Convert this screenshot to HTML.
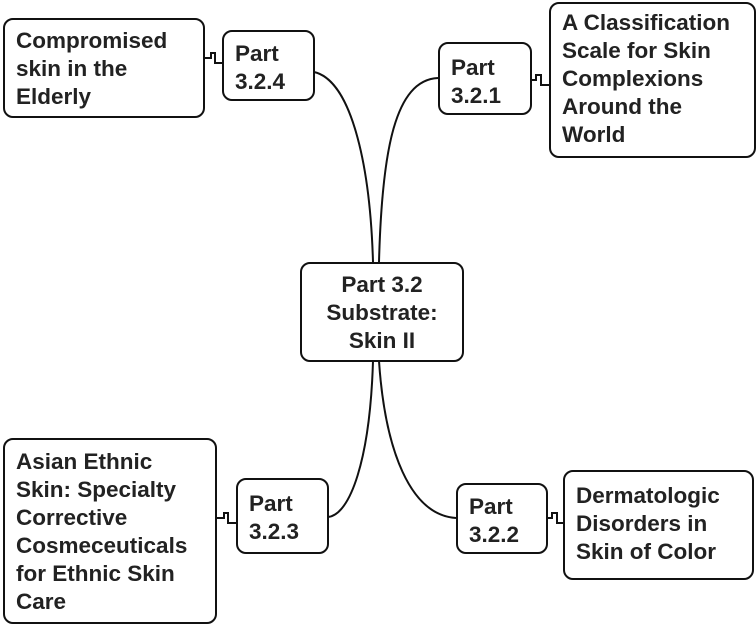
<!DOCTYPE html>
<html><head><style>
body{margin:0;width:756px;height:624px;background:#fff;position:relative;overflow:hidden;font-family:"Liberation Sans",Arial,sans-serif;font-weight:bold;color:#222}
.b{position:absolute;box-sizing:border-box;border:2.5px solid #111;border-radius:10px;background:#fff;font-size:22.5px;line-height:28px;padding:6px 11px}
svg{position:absolute;left:0;top:0}
</style></head><body>
<svg width="756" height="624" fill="none" stroke="#111" stroke-width="2">
<path d="M373 262 C370 160 350 80 314 72"/>
<path d="M379 262 C382 150 395 80 438 78"/>
<path d="M373 361 C370 460 350 515 328 517"/>
<path d="M379 361 C385 450 410 515 456 518"/>
<path d="M204 58 h7 v-5 h4 v10 h7"/>
<path d="M531 80 h5 v-5 h5 v10 h8"/>
<path d="M216 518 h8 v-5 h4 v10 h8"/>
<path d="M547 518 h5 v-5 h5 v10 h6"/>
</svg>
<div class="b" style="left:3px;top:18px;width:202px;height:100px;padding-top:7px">Compromised<br>skin in the<br>Elderly</div>
<div class="b" style="left:222px;top:30px;width:93px;height:71px;padding-top:8px">Part<br>3.2.4</div>
<div class="b" style="left:438px;top:42px;width:94px;height:73px;padding-top:10px">Part<br>3.2.1</div>
<div class="b" style="left:549px;top:2px;width:207px;height:156px;padding-top:5px">A Classification<br>Scale for Skin<br>Complexions<br>Around the<br>World</div>
<div class="b" style="left:300px;top:262px;width:164px;height:100px;text-align:center;padding:7px 2px">Part 3.2<br>Substrate:<br>Skin II</div>
<div class="b" style="left:3px;top:438px;width:214px;height:186px;padding-top:8px">Asian Ethnic<br>Skin: Specialty<br>Corrective<br>Cosmeceuticals<br>for Ethnic Skin<br>Care</div>
<div class="b" style="left:236px;top:478px;width:93px;height:76px;padding-top:10px">Part<br>3.2.3</div>
<div class="b" style="left:456px;top:483px;width:92px;height:71px;padding-top:8px">Part<br>3.2.2</div>
<div class="b" style="left:563px;top:470px;width:191px;height:110px;padding-top:10px">Dermatologic<br>Disorders in<br>Skin of Color</div>
</body></html>
